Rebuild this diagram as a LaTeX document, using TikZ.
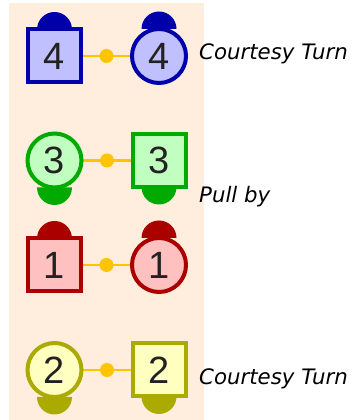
\documentclass[tikz,border=0pt]{standalone}
\usepackage{fontspec}
\setmainfont{DejaVu Sans}
\newfontfamily\digitfont{Liberation Sans}
\pgfdeclarelayer{bg}
\pgfdeclarelayer{heads}
\pgfsetlayers{bg,heads,main}
\definecolor{peach}{HTML}{FFEEDD}
\definecolor{goldl}{HTML}{FFC400}
\definecolor{bdark}{HTML}{0000AA}\definecolor{blite}{HTML}{C0C0FF}
\definecolor{gdark}{HTML}{00AA00}\definecolor{glite}{HTML}{C0FFC0}
\definecolor{rdark}{HTML}{AA0000}\definecolor{rlite}{HTML}{FFC0C0}
\definecolor{ydark}{HTML}{AAAA00}\definecolor{ylite}{HTML}{FFFFC0}
\definecolor{numc}{HTML}{222222}
\tikzset{
  dancer/.style={line width=4pt, inner sep=0pt, outer sep=0pt, text=numc,
     font=\digitfont\fontsize{38}{38}\selectfont},
  boy/.style={dancer, rectangle, minimum size=53pt},
  girl/.style={dancer, circle, minimum size=54pt},
  link/.style={goldl, line width=2.5pt},
  knot/.style={circle, fill=goldl, minimum size=14pt, inner sep=0pt},
  call/.style={anchor=base west, font=\itshape\fontsize{21.3}{21.3}\selectfont, text=black, inner sep=0pt},
}
\newcommand{\headup}[2]{\fill[#2] ([xshift=-17.5pt]#1.north) arc (180:0:17.5pt) -- cycle;}
\newcommand{\headdown}[2]{\fill[#2] ([xshift=-17.5pt]#1.south) arc (180:360:17.5pt) -- cycle;}
\begin{document}
\begin{tikzpicture}[x=1pt,y=1pt]
\useasboundingbox (0,0) rectangle (353,420);
% row 4
\node[boy, draw=bdark, fill=blite] (b4) at (54.5,364) {4};
\node[girl, draw=bdark, fill=blite] (g4) at (159,364) {4};
% row 3
\node[girl, draw=gdark, fill=glite] (g3) at (54.5,259.5) {3};
\node[boy, draw=gdark, fill=glite] (b3) at (159,259.5) {3};
% row 1
\node[boy, draw=rdark, fill=rlite] (b1) at (54.5,155) {1};
\node[girl, draw=rdark, fill=rlite] (g1) at (159,155) {1};
% row 2
\node[girl, draw=ydark, fill=ylite] (g2) at (54.5,50) {2};
\node[boy, draw=ydark, fill=ylite] (b2) at (159,50) {2};
\begin{pgfonlayer}{bg}
  \fill[peach] (9,0) rectangle (204,417);
\end{pgfonlayer}
\begin{pgfonlayer}{heads}
  \headup{b4}{bdark} \headup{g4}{bdark}
  \headdown{g3}{gdark} \headdown{b3}{gdark}
  \headup{b1}{rdark} \headup{g1}{rdark}
  \headdown{g2}{ydark} \headdown{b2}{ydark}
  \draw[link] (b4) -- node[knot] (k4) {} (g4);
  \draw[link] (g3) -- node[knot] (k3) {} (b3);
  \draw[link] (b1) -- node[knot] (k1) {} (g1);
  \draw[link] (g2) -- node[knot] (k2) {} (b2);
\end{pgfonlayer}
\node[call] (t1) at (199,360) {Courtesy Turn};
\node[call] (t2) at (199,217) {Pull by};
\node[call] (t3) at (199,35) {Courtesy Turn};
\end{tikzpicture}
\end{document}
